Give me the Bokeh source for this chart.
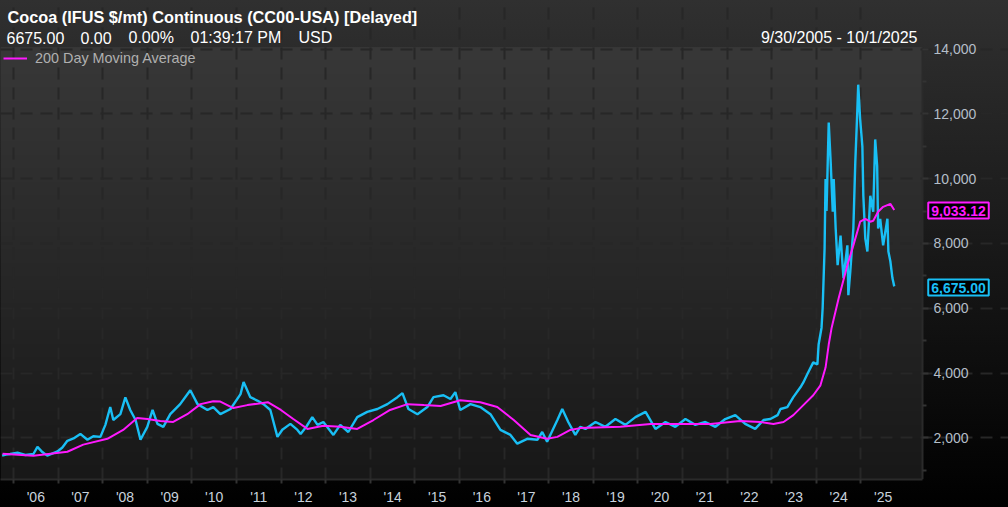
import numpy as np
import pandas as pd
from bokeh.plotting import figure
from bokeh.models import (Range1d, FixedTicker, NumeralTickFormatter, Label, Legend,
                          LegendItem, GlobalInlineStyleSheet)
from bokeh.embed import file_html
from bokeh.resources import INLINE

# ---------------- data ----------------
price_dates = [
    "2005-09-30", "2005-11-01", "2005-12-05", "2006-02-03", "2006-04-08", "2006-06-13", "2006-07-16",
    "2006-08-25", "2006-10-04", "2006-12-27", "2007-02-05", "2007-03-18", "2007-05-07", "2007-07-02",
    "2007-08-29", "2007-10-16", "2007-12-13", "2008-01-23", "2008-03-03", "2008-03-28", "2008-05-25",
    "2008-07-05", "2008-08-14", "2008-09-27", "2008-11-06", "2009-01-01", "2009-02-13", "2009-03-25",
    "2009-05-12", "2009-07-08", "2009-09-27", "2009-11-16", "2009-12-19", "2010-02-16", "2010-05-08",
    "2010-06-25", "2010-08-22", "2010-11-13", "2011-02-03", "2011-02-28", "2011-04-24", "2011-06-20",
    "2011-08-10", "2011-10-05", "2011-12-02", "2012-01-11", "2012-03-17", "2012-05-14", "2012-06-09",
    "2012-07-27", "2012-09-13", "2012-10-26", "2012-12-13", "2013-03-05", "2013-04-30", "2013-07-05",
    "2013-09-16", "2013-12-07", "2014-02-28", "2014-05-21", "2014-08-11", "2014-09-21", "2014-11-09",
    "2015-01-22", "2015-04-13", "2015-06-02", "2015-08-23", "2015-10-19", "2015-11-28", "2016-01-07",
    "2016-03-31", "2016-06-20", "2016-09-11", "2016-12-02", "2017-02-22", "2017-04-19", "2017-07-09",
    "2017-09-30", "2017-11-09", "2017-12-19", "2018-03-13", "2018-04-22", "2018-06-10", "2018-08-07",
    "2018-09-16", "2018-10-29", "2019-01-19", "2019-04-10", "2019-07-01", "2019-09-21", "2019-12-12",
    "2020-03-04", "2020-05-24", "2020-08-14", "2020-11-03", "2021-01-25", "2021-04-16", "2021-07-07",
    "2021-09-27", "2021-12-17", "2022-03-09", "2022-05-29", "2022-08-19", "2022-10-26", "2022-12-21",
    "2023-02-18", "2023-03-14", "2023-05-09", "2023-06-27", "2023-08-24", "2023-09-17", "2023-10-19",
    "2023-12-07", "2024-01-10", "2024-01-20", "2024-02-13", "2024-02-22", "2024-03-09", "2024-03-17",
    "2024-03-25", "2024-04-03", "2024-04-12", "2024-04-28", "2024-05-15", "2024-05-23", "2024-06-08",
    "2024-06-24", "2024-07-18", "2024-08-11", "2024-09-12", "2024-09-20", "2024-10-06", "2024-10-31",
    "2024-11-16", "2024-12-02", "2024-12-10", "2024-12-26", "2025-01-13", "2025-01-21", "2025-02-06",
    "2025-02-23", "2025-03-19", "2025-04-12", "2025-04-28", "2025-05-14", "2025-05-22", "2025-06-08",
    "2025-07-02", "2025-08-06", "2025-08-14", "2025-08-30", "2025-09-16", "2025-10-01",
]
price_values = [
    1450, 1480, 1500, 1540, 1470, 1500, 1720,
    1560, 1450, 1580, 1700, 1910, 1980, 2120,
    1940, 2050, 2030, 2400, 2950, 2550, 2730,
    3250, 2860, 2550, 1940, 2340, 2860, 2430,
    2340, 2730, 3040, 3300, 3470, 3040, 2860,
    2950, 2730, 2890, 3350, 3720, 3255, 3150,
    3040, 2860, 2030, 2250, 2430, 2245, 2120,
    2350, 2640, 2400, 2490, 2090, 2400, 2180,
    2640, 2800, 2890, 3040, 3255, 3380, 2890,
    2730, 2950, 3255, 3315, 3200, 3410, 2860,
    3040, 2950, 2730, 2245, 2090, 1820, 1970,
    1940, 2180, 1880, 2550, 2890, 2490, 2090,
    2340, 2275, 2490, 2340, 2580, 2400, 2640,
    2800, 2275, 2490, 2340, 2580, 2400, 2490,
    2340, 2580, 2700, 2430, 2275, 2550, 2580,
    2700, 2890, 2950, 3255, 3560, 3710, 3960,
    4330, 4265, 4880, 5400, 6000, 7850, 9990,
    9000, 10390, 11730, 10510, 8980, 9990, 8460,
    7330, 8240, 6930, 7940, 6400, 7140, 8460,
    10510, 12040, 12900, 11830, 11000, 9470, 8150,
    7750, 9470, 8980, 11210, 10390, 8460, 8760,
    7940, 8760, 7750, 7450, 6930, 6675,
]

ma_dates = [
    "2005-10-03", "2006-06-13", "2007-03-18", "2007-07-26", "2008-02-08", "2008-06-17", "2008-10-10",
    "2009-01-01", "2009-04-17", "2009-08-01", "2009-11-24", "2010-03-13", "2010-06-25", "2010-08-22",
    "2010-12-06", "2011-03-31", "2011-09-14", "2011-12-30", "2012-04-10", "2012-08-04", "2012-12-13",
    "2013-04-30", "2013-09-16", "2014-01-27", "2014-06-12", "2014-11-01", "2015-03-15", "2015-07-30",
    "2016-01-07", "2016-06-20", "2016-11-06", "2017-03-21", "2017-08-05", "2017-12-19", "2018-03-13",
    "2018-06-27", "2018-09-16", "2019-08-11", "2020-04-14", "2020-12-14", "2021-08-17", "2022-04-19",
    "2022-10-01", "2023-01-15", "2023-04-08", "2023-06-27", "2023-09-17", "2023-12-07", "2024-02-04",
    "2024-03-17", "2024-04-12", "2024-05-06", "2024-07-03", "2024-09-12", "2024-10-31", "2024-12-26",
    "2025-02-06", "2025-03-19", "2025-04-12", "2025-05-22", "2025-07-02", "2025-08-30", "2025-10-01",
]
ma_values = [
    1510, 1450, 1570, 1790, 1970, 2245, 2610,
    2580, 2520, 2490, 2730, 3040, 3130, 3120,
    2920, 3010, 3100, 2860, 2580, 2275, 2370,
    2340, 2275, 2550, 2860, 3040, 3010, 2980,
    3160, 3100, 2950, 2550, 2090, 1970, 2030,
    2245, 2300, 2340, 2430, 2430, 2430, 2520,
    2490, 2430, 2490, 2700, 3010, 3315, 3620,
    4170, 4880, 5400, 6315, 7330, 7940, 8670,
    8760, 8670, 8700, 8980, 9130, 9220, 9033.12,
]

years = list(range(2006, 2026))
year_labels = ["'%02d" % (y % 100) for y in years]
y_ticks = [2000, 4000, 6000, 8000, 10000, 12000, 14000]
y_minor = [1000, 3000, 5000, 7000, 9000, 11000, 13000]

title_text = "Cocoa (IFUS $/mt) Continuous (CC00-USA) [Delayed]"
last_price = 6675.00
change = 0.00
change_pct = 0.00
time_text = "01:39:17 PM"
currency = "USD"
date_range_text = "9/30/2005 - 10/1/2025"
ma_label = "200 Day Moving Average"

# ---------------- styling ----------------
CYAN = "#19bff5"
MAGENTA = "#ff19ff"
FONT = "Liberation Sans"
GRID = "#272727"
AXIS_TXT = "#b4bec8"

W, H = 1008, 507
BOTTOM = 24                 # x-axis band height
FRAME_H = H - BOTTOM        # frame spans the full width and everything above the x axis
PX_PER_YEAR = 44.6
X_JAN2006 = 13              # pixel of 1 Jan 2006
PX_PER_UNIT = 32.67 / 1000  # pixels per $/mt
PLOT_TOP_PX, PLOT_RIGHT_PX = 47, 922

XS = 2006 - X_JAN2006 / PX_PER_YEAR
XE = XS + W / PX_PER_YEAR
XP = XS + PLOT_RIGHT_PX / PX_PER_YEAR          # right edge of the price area
YS = 714.0
YE = YS + FRAME_H / PX_PER_UNIT
YP = YS + (FRAME_H - PLOT_TOP_PX) / PX_PER_UNIT  # top edge of the price area


def frac_year(d):
    ts = pd.Timestamp(d)
    start = pd.Timestamp(year=ts.year, month=1, day=1)
    end = pd.Timestamp(year=ts.year + 1, month=1, day=1)
    return ts.year + (ts - start) / (end - start)


px = [frac_year(d) for d in price_dates]
mx = [frac_year(d) for d in ma_dates]

p = figure(width=W, height=H, output_backend="svg", toolbar_location=None,
           x_range=Range1d(XS, XE), y_range=Range1d(YS, YE),
           y_axis_location="right",
           min_border_left=0, min_border_right=0, min_border_top=0, min_border_bottom=BOTTOM)
p.title.visible = False
p.border_fill_color = None
p.background_fill_color = None
p.outline_line_color = None
p.styles = {"background": "linear-gradient(to bottom, #303030 0%, #000000 100%)"}
p.stylesheets = [GlobalInlineStyleSheet(css="html, body { margin: 0; padding: 0; background: #000; overflow: hidden; }")]

# price-area vertical gradient
n = 256
shade = np.linspace(0x18, 0x38, n).astype(np.uint8)
img = np.empty((n, 4), dtype=np.uint32)
view = img.view(dtype=np.uint8).reshape((n, 4, 4))
for c in range(3):
    view[:, :, c] = shade[:, None]
view[:, :, 3] = 255
p.image_rgba(image=[img], x=XS, y=YS, dw=XP - XS, dh=YP - YS, level="image")

# grids (limited to the price area)
p.xgrid.ticker = FixedTicker(ticks=[float(y) for y in years])
p.ygrid.ticker = FixedTicker(ticks=y_ticks)
p.xgrid.bounds = (YS, YP)
p.ygrid.bounds = (XS, XP)
for g in (p.xgrid, p.ygrid):
    g.grid_line_color = GRID
    g.grid_line_width = 2
    g.grid_line_dash = "12 8"

# x axis
xa = p.xaxis[0]
xa.bounds = (XS, XP)
xa.ticker = FixedTicker(ticks=[y + 0.5 for y in years], minor_ticks=[float(y) for y in years])
xa.major_label_overrides = {y + 0.5: lab for y, lab in zip(years, year_labels)}
xa.major_tick_line_color = None
xa.major_tick_out = 0
xa.major_tick_in = 0
xa.minor_tick_out = 4
xa.minor_tick_in = 0
xa.minor_tick_line_color = "#333333"
xa.minor_tick_line_width = 2
xa.axis_line_color = "#2a2a2a"
xa.axis_line_width = 2
xa.major_label_standoff = 5
xa.major_label_text_font = FONT
xa.major_label_text_font_size = "14px"
xa.major_label_text_color = "#c8d2dc"

# y axis, pinned to the right edge of the price area
ya = p.yaxis[0]
ya.fixed_location = XP
ya.bounds = (YS, YP)
ya.ticker = FixedTicker(ticks=y_ticks, minor_ticks=y_minor)
ya.formatter = NumeralTickFormatter(format="0,0")
ya.major_tick_out = 6
ya.major_tick_in = 0
ya.minor_tick_out = 4
ya.minor_tick_in = 0
ya.major_tick_line_color = "#333333"
ya.minor_tick_line_color = "#333333"
ya.major_tick_line_width = 2
ya.minor_tick_line_width = 2
ya.axis_line_color = "#2a2a2a"
ya.axis_line_width = 2
ya.major_label_standoff = 5
ya.major_label_text_font = FONT
ya.major_label_text_font_size = "14px"
ya.major_label_text_color = AXIS_TXT

# series
p.line(px, price_values, color=CYAN, line_width=2.4)
r_ma = p.line(mx, ma_values, color=MAGENTA, line_width=2)

legend = Legend(items=[LegendItem(label=ma_label, renderers=[r_ma])],
                location=(3, FRAME_H - 70), margin=0, padding=5,
                background_fill_alpha=0, border_line_color=None,
                label_text_color="#b0b0b0", label_text_font=FONT, label_text_font_size="14.4px",
                glyph_width=24, glyph_height=10, label_height=10, label_standoff=8, spacing=0)
p.add_layout(legend)


# ---------------- texts (screen units: frame-relative, y up) ----------------
def add_text(cx, cy, text, size="16px", bold=False, color="white", align="left"):
    p.add_layout(Label(x=cx, y=FRAME_H - cy, x_units="screen", y_units="screen", text=text,
                       text_font=FONT, text_font_size=size,
                       text_font_style="bold" if bold else "normal",
                       text_color=color, text_align=align, text_baseline="middle"))


add_text(7, 20.5, title_text, size="16.3px", bold=True)
add_text(6, 41, "%.2f" % last_price)
add_text(80, 41, "%.2f" % change)
add_text(128, 41, "%.2f%%" % change_pct)
add_text(190, 41, time_text)
add_text(298, 41, currency)
add_text(917, 41, date_range_text, align="right")


def add_tag(cy, text, color):
    p.add_layout(Label(x=958, y=FRAME_H - cy, x_units="screen", y_units="screen", text=text,
                       text_font=FONT, text_font_size="14px", text_font_style="bold",
                       text_color=color, text_align="center", text_baseline="middle",
                       background_fill_color="black", border_line_color=color,
                       border_line_width=2, padding=3))


add_tag(214, f"{ma_values[-1]:,.2f}", MAGENTA)
add_tag(291, f"{last_price:,.2f}", CYAN)

open("out.html", "w").write(file_html(p, INLINE))
